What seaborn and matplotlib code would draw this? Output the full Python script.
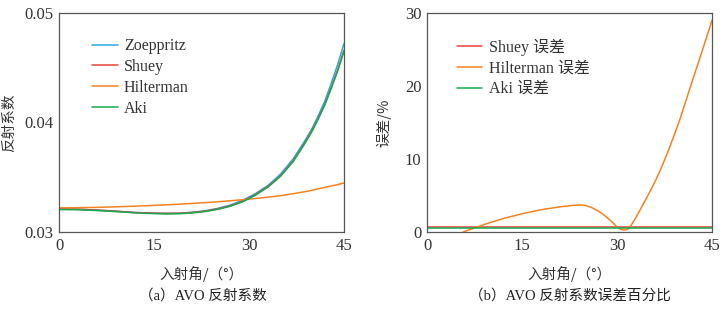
import numpy as np
import pandas as pd
import seaborn as sns
from matplotlib import pyplot as plt

# (a) reflection coefficient vs incidence angle
angle_a = [0, 3, 6, 9, 12, 15, 17, 19, 21, 23, 25, 27, 29, 30, 31, 33, 35, 37, 39, 40, 41, 42, 43, 44, 45]
zoeppritz = [0.03210, 0.03208, 0.03200, 0.03190, 0.03178, 0.03172, 0.03170, 0.03172, 0.03180, 0.03193, 0.03215, 0.03245,
             0.03290, 0.03320, 0.03350, 0.03425, 0.03530, 0.03670, 0.03850, 0.03950, 0.04070, 0.04200, 0.04360, 0.04530, 0.04720]
shuey = [0.03210, 0.03208, 0.03200, 0.03190, 0.03178, 0.03172, 0.03170, 0.03171, 0.03178, 0.03190, 0.03210, 0.03238,
         0.03280, 0.03310, 0.03340, 0.03415, 0.03515, 0.03650, 0.03830, 0.03930, 0.04045, 0.04170, 0.04320, 0.04480, 0.04660]
hilterman = [0.03220, 0.03222, 0.03225, 0.03230, 0.03236, 0.03243, 0.03248, 0.03254, 0.03261, 0.03268, 0.03276, 0.03285,
             0.03295, 0.03300, 0.03306, 0.03318, 0.03332, 0.03350, 0.03370, 0.03382, 0.03395, 0.03408, 0.03420, 0.03433, 0.03448]
aki = [0.03205, 0.03203, 0.03196, 0.03186, 0.03175, 0.03168, 0.03165, 0.03167, 0.03174, 0.03186, 0.03206, 0.03234,
       0.03276, 0.03305, 0.03336, 0.03410, 0.03510, 0.03645, 0.03825, 0.03925, 0.04040, 0.04165, 0.04315, 0.04470, 0.04650]

# (b) error percentage
angle_b = [0, 45]
shuey_err = [0.65, 0.65]
aki_err = [0.5, 0.5]
angle_h = [5.7, 7.8, 10, 12.5, 15, 18, 21, 23, 24, 25, 26, 27, 28, 29, 30, 30.5, 31, 31.5, 32, 33, 34, 35,
           36, 37, 38, 39, 40, 41, 42, 43, 44, 45]
hilterman_err = [0.0, 0.65, 1.3, 1.95, 2.5, 3.05, 3.45, 3.65, 3.7, 3.65, 3.35, 2.9, 2.3, 1.55, 0.7, 0.4, 0.28, 0.3, 0.6,
                 2.0, 3.6, 5.2, 6.9, 8.8, 10.9, 13.2, 15.6, 18.3, 21.0, 23.6, 26.3, 29.0]

c_blue = "#2aa6e0"
c_red = "#e8413b"
c_orange = "#f5821f"
c_green = "#1aa84f"

sns.set_style("white")
plt.rcParams['font.family'] = ['Liberation Serif', 'Noto Sans CJK SC']
plt.rcParams['axes.edgecolor'] = '#555555'
plt.rcParams['axes.linewidth'] = 0.9

fig = plt.figure(figsize=(7.26, 3.14), dpi=100)
ax1 = fig.add_axes([59 / 726, 1 - 232 / 314, 285 / 726, 219 / 314])
ax2 = fig.add_axes([427 / 726, 1 - 232 / 314, 285 / 726, 219 / 314])

df_a = pd.DataFrame({
    "angle": angle_a * 4,
    "value": zoeppritz + shuey + hilterman + aki,
    "method": ["Zoeppritz"] * len(angle_a) + ["Shuey"] * len(angle_a) + ["Hilterman"] * len(angle_a) + ["Aki"] * len(angle_a),
})
sns.lineplot(data=df_a, x="angle", y="value", hue="method", ax=ax1, sort=False,
             palette={"Zoeppritz": c_blue, "Shuey": c_red, "Hilterman": c_orange, "Aki": c_green},
             linewidth=1.1, legend=True)

df_b = pd.DataFrame({
    "angle": angle_b + angle_h + angle_b,
    "value": shuey_err + hilterman_err + aki_err,
    "method": ["Shuey 误差"] * 2 + ["Hilterman 误差"] * len(angle_h) + ["Aki 误差"] * 2,
})
sns.lineplot(data=df_b, x="angle", y="value", hue="method", ax=ax2, sort=False,
             palette={"Shuey 误差": c_red, "Hilterman 误差": c_orange, "Aki 误差": c_green},
             linewidth=1.1, legend=True)

ax1.set_xlim(0, 45)
ax1.set_ylim(0.03, 0.05)
ax1.set_yticks([0.03, 0.04, 0.05])
ax1.set_yticklabels(["0.03", "0.04", "0.05"])
ax2.set_xlim(0, 45)
ax2.set_ylim(0, 30)
ax2.set_yticks([0, 10, 20, 30])

for ax, lx in ((ax1, 0.116), (ax2, 0.105)):
    ax.set_xticks([0, 15, 30, 45])
    ax.tick_params(direction='in', length=4, width=0.8, color='#555555', labelsize=12,
                   labelcolor='#333333', pad=4)
    ax.set_xlabel("入射角/（°）", fontsize=10.5, color='#333333', labelpad=9,
                  family=['Noto Sans CJK SC', 'DejaVu Sans'])
    for s in ax.spines.values():
        s.set_visible(True)
    leg = ax.legend(loc='upper left', bbox_to_anchor=(lx, 0.885), frameon=False, fontsize=11.5,
                    borderaxespad=0, borderpad=0,
                    handlelength=1.6, handletextpad=0.4, labelspacing=0.3)
    for t in leg.get_texts():
        t.set_color('#333333')
        t.set_family(['Liberation Serif', 'Noto Sans CJK SC'])

ax1.set_ylabel("反射系数", fontsize=10.5, color='#333333', labelpad=6, family=['Noto Sans CJK SC'])
ax2.set_ylabel("误差/%", fontsize=10.5, color='#333333', labelpad=10, family=['Noto Sans CJK SC', 'DejaVu Sans'])

fig.text(203 / 726, 1 - 296 / 314, "（a）AVO 反射系数", ha='center', va='center', fontsize=10.5,
         family=['Liberation Serif', 'Noto Sans CJK SC'], color='#222222')
fig.text(570 / 726, 1 - 296 / 314, "（b）AVO 反射系数误差百分比", ha='center', va='center', fontsize=10.5,
         family=['Liberation Serif', 'Noto Sans CJK SC'], color='#222222')

fig.savefig("out.png", dpi=100)
